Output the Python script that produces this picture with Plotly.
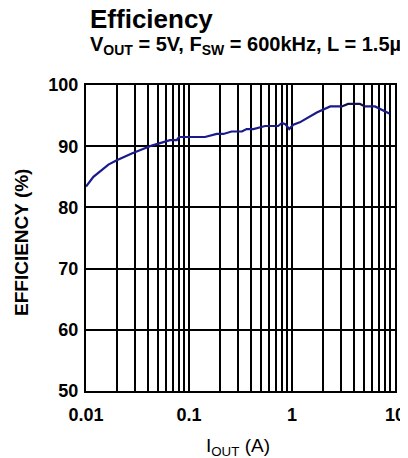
import plotly.graph_objects as go

# Data
iout = [0.01, 0.0118, 0.0165, 0.0199, 0.0278, 0.0347, 0.0435, 0.0654, 0.076, 0.08,
        0.143, 0.186, 0.216, 0.259, 0.326, 0.363, 0.422, 0.548, 0.733, 0.80, 0.86,
        0.94, 1.03, 1.19, 1.74, 2.35, 3.05, 3.5, 4.57, 5.1, 6.4, 8.9]
eff = [83.4, 85.0, 87.0, 87.7, 88.8, 89.4, 90.1, 91.0, 91.0, 91.5,
       91.5, 92.0, 92.0, 92.4, 92.4, 92.8, 92.8, 93.3, 93.3, 93.8, 93.6,
       92.8, 93.5, 93.9, 95.5, 96.5, 96.5, 96.9, 96.9, 96.5, 96.5, 95.3]
peak_start, peak_end = 26, 30

x_ticks = [0.01, 0.1, 1, 10]
x_tick_labels = ["0.01", "0.1", "1", "10"]
y_ticks = [50, 60, 70, 80, 90, 100]

FONT = "Liberation Sans, Arial, sans-serif"
OFF = 8  # page body margin
W, H = 400, 450
L, T = 86 - OFF, 85 - OFF
PW, PH = 309, 306
R, B = W - L - PW, H - T - PH


def px(xp):
    return (xp - OFF - L) / PW


def py(yp):
    return (T + PH - (yp - OFF)) / PH


fig = go.Figure()
fig.add_trace(go.Scatter(x=iout, y=eff, mode="lines",
                         line=dict(color="#1a1a8c", width=2.2), hoverinfo="skip"))
fig.add_trace(go.Scatter(x=iout[peak_start:peak_end], y=eff[peak_start:peak_end], mode="lines",
                         line=dict(color="#111111", width=1.2), hoverinfo="skip"))

fig.update_layout(
    width=W, height=H,
    margin=dict(l=L, r=R, t=T, b=B, autoexpand=False),
    paper_bgcolor="white", plot_bgcolor="white",
    showlegend=False,
    font=dict(family=FONT, color="black"),
    xaxis=dict(type="log", range=[-2, 1], tickvals=x_ticks, ticktext=x_tick_labels,
               showgrid=True, gridcolor="black", gridwidth=1.5,
               minor=dict(dtick="D1", showgrid=True, gridcolor="black", gridwidth=1.5, ticks=""),
               showline=True, linecolor="black", linewidth=2, mirror=True,
               ticks="", ticklabelstandoff=6,
               tickfont=dict(size=18, family=FONT, weight="bold"),
               zeroline=False, automargin=False),
    yaxis=dict(range=[50, 100], tickvals=y_ticks,
               showgrid=True, gridcolor="black", gridwidth=1.5,
               showline=True, linecolor="black", linewidth=2, mirror=True,
               ticks="", ticklabelstandoff=2,
               tickfont=dict(size=18, family=FONT, weight="bold"),
               zeroline=False, automargin=False),
)

SUB = '<sub style="font-size:15px">'
# Title and subtitle
fig.add_annotation(text="<b>Efficiency</b>", xref="paper", yref="paper",
                   x=px(88), y=py(19), xanchor="left", yanchor="middle", showarrow=False,
                   font=dict(size=26, family=FONT))
fig.add_annotation(text="V" + SUB + "OUT</sub> = 5V, F" + SUB + "SW</sub> = 600kHz, L = 1.5µH",
                   xref="paper", yref="paper", x=px(88), y=py(45),
                   xanchor="left", yanchor="middle", showarrow=False, align="left",
                   font=dict(size=20, family=FONT, weight="bold"))
# Axis titles
fig.add_annotation(text="I" + SUB + "OUT</sub> (A)", xref="paper", yref="paper",
                   x=px(238), y=py(447), xanchor="center", yanchor="middle", showarrow=False,
                   font=dict(size=19, family=FONT))
fig.add_annotation(text="<b>EFFICIENCY (%)</b>", xref="paper", yref="paper",
                   x=px(22), y=py(243), xanchor="center", yanchor="middle", showarrow=False,
                   textangle=-90, font=dict(size=19, family=FONT))

fig.write_html("out.html")
